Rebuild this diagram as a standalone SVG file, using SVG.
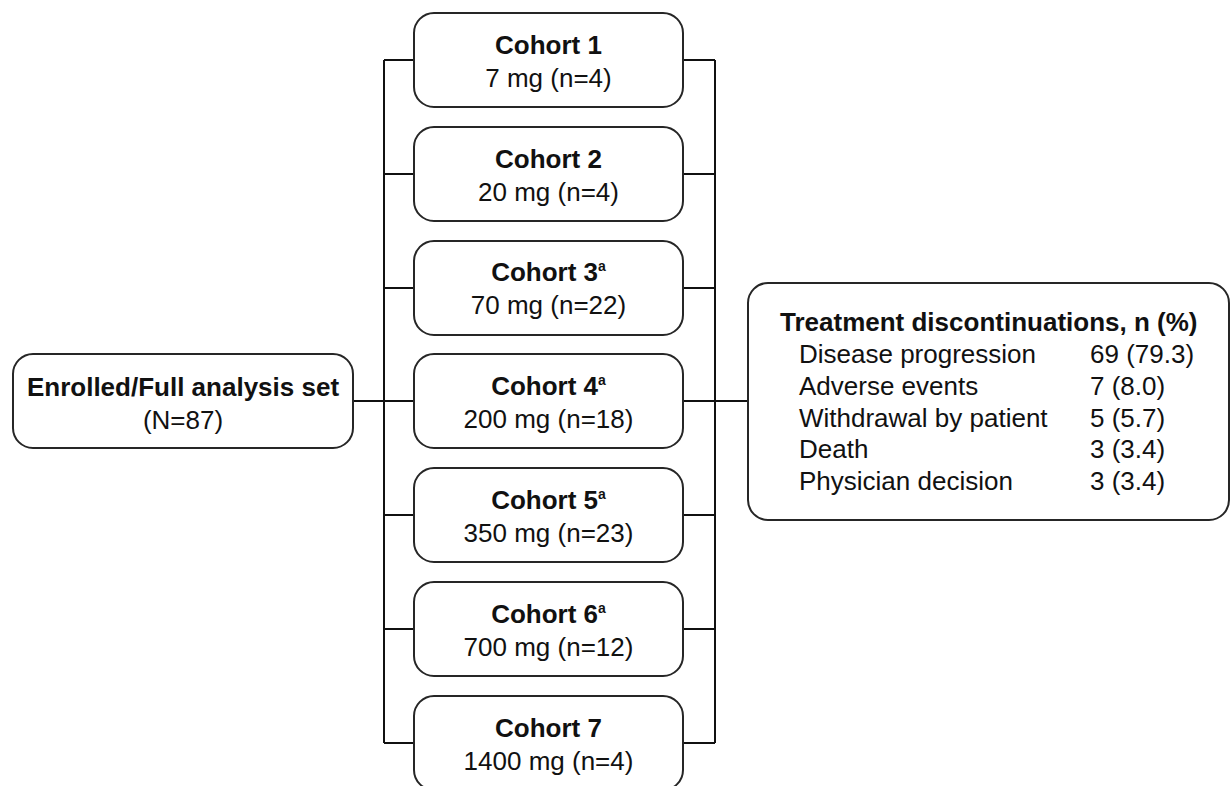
<svg xmlns="http://www.w3.org/2000/svg" width="1231" height="786" viewBox="0 0 1231 786">
<style>
.box{fill:#fff;stroke:#262626;stroke-width:2}
.conn{fill:none;stroke:#111;stroke-width:2}
text{font-family:"Liberation Sans",Arial,Helvetica,sans-serif;font-size:26px;fill:#111}
.b{font-weight:bold}
.c{text-anchor:middle}
.sup{font-size:14px;font-weight:bold}
</style>
<rect width="1231" height="786" fill="#fff"/>
<g id="connectors">
<path class="conn" d="M353 401H384M384 60V743M384 60H414M384 174H414M384 288H414M384 401H414M384 515H414M384 629H414M384 743H414"/>
<path class="conn" d="M683 60H715M683 174H715M683 288H715M683 401H715M683 515H715M683 629H715M683 743H715M715 60V743M715 401H748"/>
</g>
<g id="enrolled">
<rect class="box" x="13" y="354" width="340" height="94" rx="20"/>
<text class="b c" x="183" y="396">Enrolled/Full analysis set</text>
<text class="c" x="183" y="429">(N=87)</text>
</g>
<g id="cohort1">
<rect class="box" x="414" y="13" width="269" height="94" rx="20"/>
<text class="b c" x="548.5" y="54">Cohort 1</text>
<text class="c" x="548.5" y="87">7 mg (n=4)</text>
</g>
<g id="cohort2">
<rect class="box" x="414" y="127" width="269" height="94" rx="20"/>
<text class="b c" x="548.5" y="168">Cohort 2</text>
<text class="c" x="548.5" y="201">20 mg (n=4)</text>
</g>
<g id="cohort3">
<rect class="box" x="414" y="241" width="269" height="94" rx="20"/>
<text class="b c" x="548.5" y="281">Cohort 3<tspan class="sup" dy="-10">a</tspan></text>
<text class="c" x="548.5" y="314">70 mg (n=22)</text>
</g>
<g id="cohort4">
<rect class="box" x="414" y="354" width="269" height="94" rx="20"/>
<text class="b c" x="548.5" y="395">Cohort 4<tspan class="sup" dy="-10">a</tspan></text>
<text class="c" x="548.5" y="428">200 mg (n=18)</text>
</g>
<g id="cohort5">
<rect class="box" x="414" y="468" width="269" height="94" rx="20"/>
<text class="b c" x="548.5" y="509">Cohort 5<tspan class="sup" dy="-10">a</tspan></text>
<text class="c" x="548.5" y="542">350 mg (n=23)</text>
</g>
<g id="cohort6">
<rect class="box" x="414" y="582" width="269" height="94" rx="20"/>
<text class="b c" x="548.5" y="623">Cohort 6<tspan class="sup" dy="-10">a</tspan></text>
<text class="c" x="548.5" y="656">700 mg (n=12)</text>
</g>
<g id="cohort7">
<rect class="box" x="414" y="696" width="269" height="94" rx="20"/>
<text class="b c" x="548.5" y="737">Cohort 7</text>
<text class="c" x="548.5" y="770">1400 mg (n=4)</text>
</g>
<g id="discontinuations">
<rect class="box" x="748" y="283" width="481" height="237" rx="20"/>
<text class="b" x="780" y="331">Treatment discontinuations, n (%)</text>
<text x="799" y="363">Disease progression</text>
<text x="1090" y="363">69 (79.3)</text>
<text x="799" y="395">Adverse events</text>
<text x="1090" y="395">7 (8.0)</text>
<text x="799" y="427">Withdrawal by patient</text>
<text x="1090" y="427">5 (5.7)</text>
<text x="799" y="458">Death</text>
<text x="1090" y="458">3 (3.4)</text>
<text x="799" y="490">Physician decision</text>
<text x="1090" y="490">3 (3.4)</text>
</g>
</svg>
